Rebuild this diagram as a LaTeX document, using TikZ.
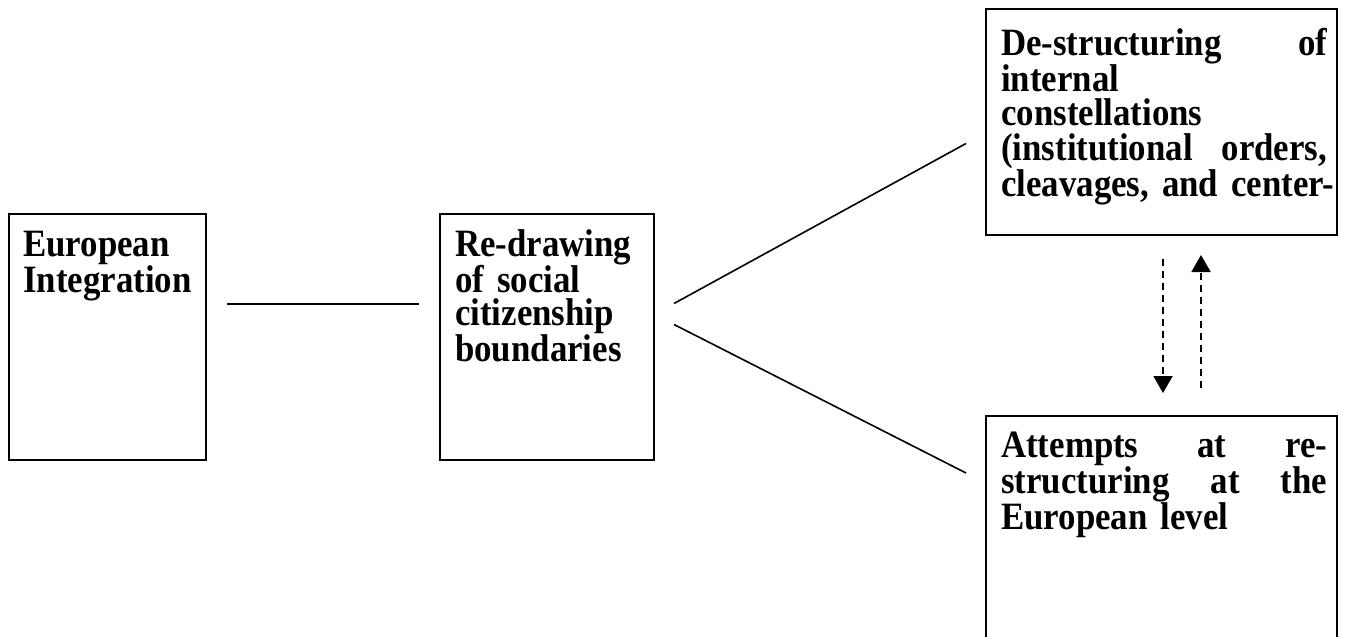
\documentclass[tikz,border=0pt]{standalone}
\usepackage{fontspec}
\setmainfont{Liberation Serif}[FakeStretch=0.9]
\usetikzlibrary{arrows.meta}
\newcommand\jline[1]{\leavevmode\hbox to 326pt{#1}}
\tikzset{
  box/.style={draw=black, line width=2pt, rectangle, inner sep=0pt, anchor=north west},
  txtL/.style={inner sep=0pt, anchor=base west, align=left, text width=#1,
    font=\bfseries\fontsize{38.7}{32.5}\selectfont},
  txtR/.style={inner sep=0pt, anchor=base west, align=left, text width=#1,
    font=\bfseries\fontsize{38.7}{34.5}\selectfont},
  link/.style={line width=1.6pt},
  dasharrow/.style={line width=2pt, dash pattern=on 7pt off 5pt,
    -{Triangle[width=19pt,length=17pt]}}
}
\begin{document}
\begin{tikzpicture}[x=1pt,y=-1pt]
\clip (0,0) rectangle (1345,637);
\fill[white] (0,0) rectangle (1345,637);
% boxes
\node[box, minimum width=197pt, minimum height=246pt] (b1) at (8,213) {};
\node[box, minimum width=214pt, minimum height=246pt] (b2) at (439,213) {};
\node[box, minimum width=351pt, minimum height=226pt] (b3) at (985,8) {};
\node[box, minimum width=351pt, minimum height=262pt] (b4) at (985,415) {};
% texts
\node[txtL=185pt] (t1) at ([xshift=15pt,yshift=-43pt]b1.north west)
  {European\\Integration};
\node[txtL=195pt] (t2) at ([xshift=16pt,yshift=-43pt]b2.north west)
  {Re-drawing\\of social\\citizenship\\boundaries};
\node[txtR=345pt] (t3) at ([xshift=16pt,yshift=-47pt]b3.north west)
  {\jline{De-structuring\hfill of}\\internal\\constellations\\
   \jline{(institutional\hfill orders,}\\\mbox{cleavages, and center-}};
\node[txtR=345pt] (t4) at ([xshift=16pt,yshift=-42pt]b4.north west)
  {\jline{Attempts\hfill at\hfill re-}\\
   \jline{structuring\hfill at\hfill the}\\European level};
% connectors
\draw[link, line width=2pt] ([xshift=20pt,yshift=33.5pt]b1.east) -- ([xshift=-20pt,yshift=33.5pt]b2.west);
\draw[link] ([xshift=19pt,yshift=33.5pt]b2.east) -- ([xshift=-19pt,yshift=-21.5pt]b3.west);
\draw[link] ([xshift=19pt,yshift=12.5pt]b2.east) -- ([xshift=-19pt,yshift=-58pt]b4.north west);
\draw[dasharrow] ([xshift=1.5pt,yshift=-23pt]b3.south) -- ([xshift=1.5pt,yshift=22pt]b4.north);
\draw[dasharrow] ([xshift=39.5pt,yshift=27pt]b4.north) -- ([xshift=39.5pt,yshift=-19pt]b3.south);
\end{tikzpicture}
\end{document}
